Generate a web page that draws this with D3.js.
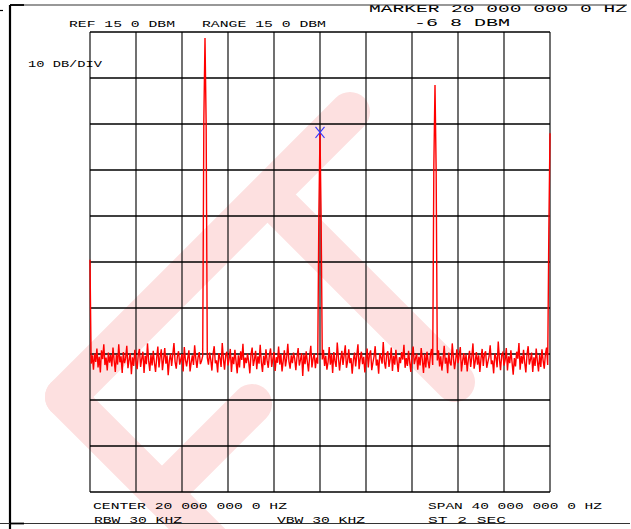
<!DOCTYPE html>
<html>
<head>
<meta charset="utf-8">
<script src="https://cdn.jsdelivr.net/npm/d3@7"></script>
<style>
  html, body { margin: 0; padding: 0; background: #fff; }
  svg { display: block; }
  text { font-family: "Liberation Mono", "DejaVu Sans Mono", monospace; fill: #000; }
</style>
</head>
<body>
<svg id="chart" width="631" height="529"></svg>
<script>
// Analyzer settings
const refLevel = 15;          // dBm, top graticule line
const dbPerDiv = 10;
const divisions = 10;
const startMHz = 0;
const stopMHz = 40;
const markerMHz = 20;
const markerLevel = -6.8;

// Annotation strings (decimal points are not plotted by the pen font)
const headerLabels = ["REF 15 0 DBM", "RANGE 15 0 DBM"];
const markerLabels = ["MARKER 20 000 000 0 HZ", "-6 8 DBM"];
const scaleLabel = ["10 DB/DIV"];
const footerLabels = ["CENTER 20 000 000 0 HZ", "SPAN 40 000 000 0 HZ"];
const bandwidthLabels = ["RBW 30 KHZ", "VBW 30 KHZ", "ST  2 SEC"];

// Swept trace, 401 points across the span (dBm)
const traceLevels = [
  -34.5,-57.1,-55.3,-58.4,-54.9,-56.7,-53.8,-57.9,-55.6,-59.0,-54.2,-56.1,-52.9,-57.4,-55.8,-58.6,-54.7,-56.9,-55.2,-57.7,
  -53.6,-56.4,-58.9,-55.1,-57.3,-52.9,-56.8,-55.5,-59.1,-54.6,-57.0,-55.9,-53.2,-58.1,-56.3,-54.8,-59.4,-55.7,-57.6,-54.1,
  -56.6,-58.3,-55.0,-53.9,-57.8,-56.0,-54.5,-59.1,-55.4,-57.2,-52.7,-56.5,-58.7,-55.2,-57.5,-54.3,-56.9,-58.9,-55.8,-53.4,
  -57.9,-55.6,-54.0,-58.5,-56.2,-53.7,-57.1,-55.3,-59.6,-56.4,-54.9,-57.6,-55.1,-52.6,-56.7,-58.2,-55.5,-54.4,-57.3,-56.1,
  -55.0,-58.8,-53.5,-56.3,-57.7,-55.9,-54.2,-58.8,-56.8,-55.3,-57.4,-53.1,-56.0,-58.0,-55.7,-54.6,-57.2,-56.5,-55.4,-4.0,
  13.7,-5.0,-55.8,-57.3,-54.7,-56.2,-58.6,-55.0,-53.3,-57.0,-56.4,-59.0,-54.8,-55.9,-57.8,-52.6,-56.1,-58.4,-55.2,-54.5,
  -57.5,-56.0,-53.9,-58.9,-55.6,-57.2,-54.1,-56.6,-59.2,-55.3,-57.9,-54.4,-56.3,-52.8,-58.1,-55.8,-57.0,-54.9,-56.7,-59.2,
  -55.1,-53.6,-57.6,-56.2,-54.3,-58.3,-55.5,-57.1,-53.0,-56.8,-58.9,-55.4,-57.4,-54.0,-56.4,-58.0,-55.2,-53.8,-57.8,-56.1,
  -54.6,-58.7,-55.7,-56.9,-53.4,-57.3,-55.0,-58.8,-56.5,-54.2,-57.7,-55.9,-52.8,-56.6,-58.2,-55.3,-57.0,-54.7,-56.0,-58.5,
  -55.6,-53.7,-57.5,-56.3,-54.8,-59.8,-55.1,-57.2,-54.4,-56.7,-58.8,-55.5,-53.2,-57.9,-56.0,-54.9,-58.1,-55.8,-57.1,-25.0,
  -6.8,-26.0,-56.2,-54.1,-57.6,-55.4,-58.4,-56.8,-53.5,-57.3,-55.0,-59.1,-54.6,-56.5,-57.8,-52.5,-55.7,-58.6,-56.1,-54.3,
  -57.4,-55.2,-53.1,-58.0,-56.6,-54.0,-57.0,-55.9,-59.3,-56.3,-54.7,-57.7,-55.3,-52.9,-58.3,-56.0,-54.5,-57.2,-55.6,-59.0,
  -56.4,-53.8,-57.9,-55.1,-54.2,-58.5,-56.9,-55.5,-53.3,-57.5,-56.2,-59.3,-54.8,-55.8,-57.1,-52.4,-56.7,-58.2,-55.0,-54.4,
  -57.8,-56.1,-53.6,-58.7,-55.4,-57.3,-54.1,-56.5,-58.9,-55.7,-57.0,-54.6,-56.2,-53.0,-58.0,-55.9,-57.6,-54.3,-56.8,-58.9,
  -55.3,-53.4,-57.2,-56.0,-54.9,-58.4,-55.6,-57.5,-53.7,-56.3,-59.1,-55.0,-57.9,-54.5,-56.6,-58.1,-55.2,-53.9,-57.4,-14.0,
  3.5,-15.0,-56.4,-54.2,-57.7,-55.5,-58.6,-56.1,-53.2,-57.1,-55.8,-59.2,-54.7,-56.9,-57.5,-52.7,-55.9,-58.3,-56.3,-54.0,
  -57.0,-55.4,-53.5,-58.8,-56.5,-54.8,-57.4,-55.1,-58.8,-56.2,-54.3,-57.8,-55.7,-52.7,-58.2,-56.6,-54.6,-57.3,-55.3,-58.9,
  -56.0,-53.9,-57.6,-55.0,-54.4,-58.0,-56.7,-55.6,-53.1,-57.2,-56.4,-59.2,-54.9,-55.8,-57.9,-52.3,-56.1,-58.5,-55.2,-54.7,
  -57.5,-56.3,-53.7,-58.6,-55.5,-57.0,-54.2,-56.8,-59.5,-55.9,-57.7,-54.5,-56.0,-52.6,-58.4,-55.4,-57.1,-54.1,-56.9,-59.0,
  -55.1,-53.3,-57.3,-56.2,-54.7,-58.9,-55.7,-57.6,-53.8,-56.5,-58.8,-55.2,-57.8,-54.0,-56.4,-58.2,-55.0,-53.6,-57.4,-28.0,
  -7.0
];

const svg = d3.select("#chart");

// Graticule geometry
const plot = { left: 90, right: 550, top: 32, bottom: 492 };
const x = d3.scaleLinear().domain([startMHz, stopMHz]).range([plot.left, plot.right]);
const y = d3.scaleLinear().domain([refLevel - dbPerDiv * divisions, refLevel]).range([plot.bottom, plot.top]);
const pointFreq = d3.scaleLinear().domain([0, traceLevels.length - 1]).range([startMHz, stopMHz]);

// Faint logo stamp behind the display
const stamp = svg.append("g")
  .attr("fill", "none")
  .attr("stroke", "#fde0e0")
  .attr("stroke-width", 40)
  .attr("stroke-linecap", "round")
  .attr("stroke-linejoin", "round");
stamp.append("path").attr("d", "M65,397 L350,112");
stamp.append("path").attr("d", "M268,195 L455,382");
stamp.append("path").attr("d", "M65,397 L235,567");
stamp.append("path").attr("d", "M162,494 L252,404");

// Graticule lines from the scales
const xTicks = d3.range(divisions + 1).map(i => startMHz + (stopMHz - startMHz) * i / divisions);
const yTicks = d3.range(divisions + 1).map(i => refLevel - dbPerDiv * i);

const grid = svg.append("g");
grid.selectAll("line.v").data(xTicks).join("line")
  .attr("class", "v")
  .attr("x1", d => x(d)).attr("x2", d => x(d))
  .attr("y1", plot.top).attr("y2", plot.bottom)
  .attr("stroke", "#111").attr("stroke-width", 1.2);
grid.selectAll("line.h").data(yTicks).join("line")
  .attr("class", "h")
  .attr("x1", plot.left).attr("x2", plot.right)
  .attr("y1", d => y(d)).attr("y2", d => y(d))
  .attr("stroke", "#000").attr("stroke-width", 1.4);

// Trace
const line = d3.line()
  .x((d, i) => x(pointFreq(i)))
  .y(d => y(d));
svg.append("path")
  .datum(traceLevels)
  .attr("d", line)
  .attr("fill", "none")
  .attr("stroke", "#ff0000")
  .attr("stroke-width", 1.4)
  .attr("stroke-linejoin", "miter");

// Marker cross
const mx = x(markerMHz), my = y(markerLevel);
const mk = svg.append("g").attr("stroke", "#3434ff").attr("stroke-width", 1.1);
mk.append("line").attr("x1", mx - 4.5).attr("y1", my - 5.5).attr("x2", mx + 4.5).attr("y2", my + 5.5);
mk.append("line").attr("x1", mx + 4.5).attr("y1", my - 5.5).attr("x2", mx - 4.5).attr("y2", my + 5.5);

// Annotations
function label(t, px, py, width, size) {
  svg.append("text")
    .attr("x", px).attr("y", py)
    .attr("font-size", size)
    .attr("textLength", width)
    .attr("lengthAdjust", "spacingAndGlyphs")
    .text(t);
}
label(headerLabels[0], 69, 26.5, 106, 9);
label(headerLabels[1], 202, 26.5, 124, 9);
label(markerLabels[0], 369, 12.3, 258, 11);
label(markerLabels[1], 414, 26, 96, 11);
label(scaleLabel[0], 28, 66.7, 74, 9);
label(footerLabels[0], 93, 508.7, 194, 9);
label(footerLabels[1], 428, 508.7, 174, 9);
label(bandwidthLabels[0], 94, 522.7, 88, 9);
label(bandwidthLabels[1], 277, 522.7, 88, 9);
label(bandwidthLabels[2], 428, 522.7, 78, 9);

// Outer frame
const frame = svg.append("g").attr("stroke", "#000");
frame.append("line").attr("x1", 10).attr("y1", 5).attr("x2", 10).attr("y2", 529).attr("stroke-width", 2.2);
frame.append("line").attr("x1", 10).attr("y1", 5).attr("x2", 627).attr("y2", 5).attr("stroke-width", 1.2).attr("stroke", "#333");
frame.append("line").attr("x1", 10).attr("y1", 5).attr("x2", 24).attr("y2", 5).attr("stroke-width", 1.8);
frame.append("line").attr("x1", 0).attr("y1", 10.5).attr("x2", 3).attr("y2", 10.5).attr("stroke-width", 1.2);
frame.append("line").attr("x1", 0).attr("y1", 523.5).attr("x2", 630).attr("y2", 523.5).attr("stroke-width", 1.2).attr("stroke", "#333");
frame.append("line").attr("x1", 10).attr("y1", 523.5).attr("x2", 24).attr("y2", 523.5).attr("stroke-width", 1.8);
</script>
</body>
</html>
